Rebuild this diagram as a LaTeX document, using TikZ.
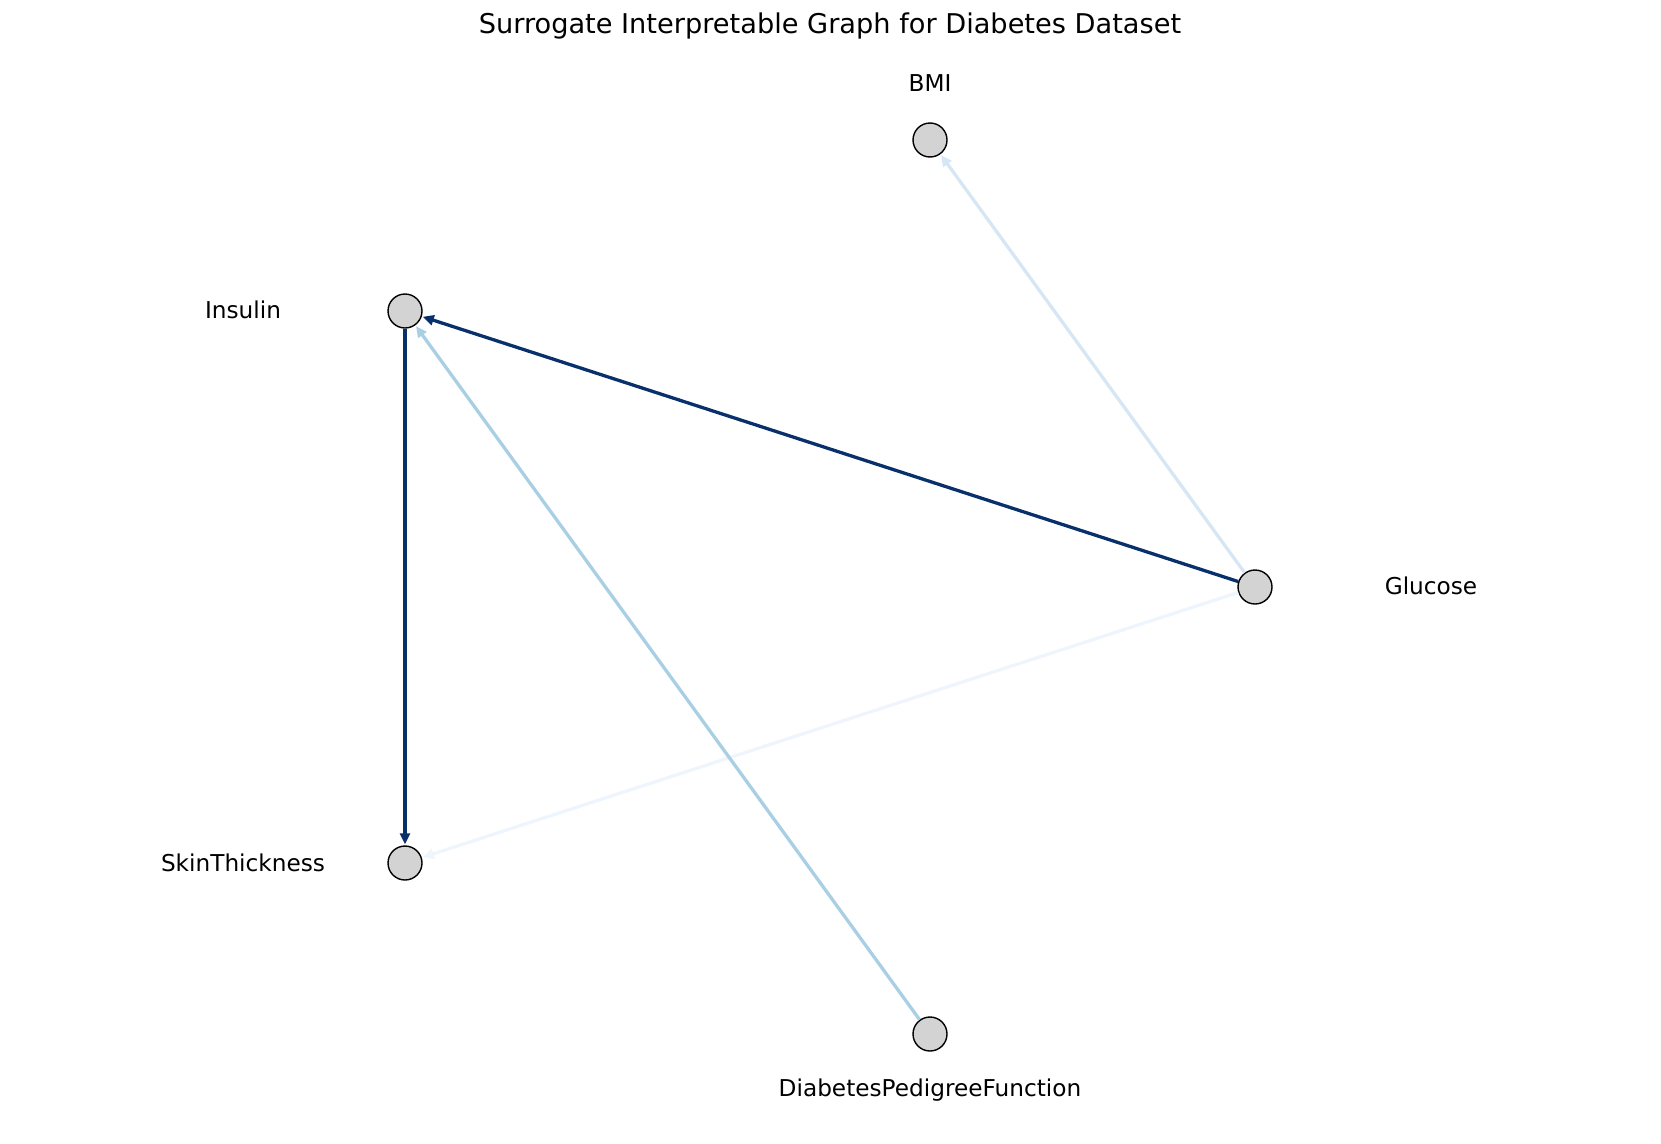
\documentclass[tikz,border=0pt]{standalone}
\usepackage{fontspec}
\setmainfont{DejaVu Sans}
\usetikzlibrary{arrows.meta}
\definecolor{edark}{HTML}{08306B}
\definecolor{elight}{HTML}{A9CFE5}
\definecolor{epale}{HTML}{D6E6F4}
\definecolor{efaint}{HTML}{EEF5FC}
\definecolor{nodefill}{HTML}{D3D3D3}
\begin{document}
\begin{tikzpicture}[x=1pt,y=-1pt,
  vnode/.style={circle,draw=black,fill=nodefill,line width=1.4pt,minimum size=34pt,inner sep=0pt},
  lbl/.style={font=\fontsize{23.2}{28}\selectfont,text=black},
  ttl/.style={font=\fontsize{27.2}{32}\selectfont,text=black},
  edge/.style={line width=3.3pt,-{Triangle[length=11pt,width=10pt]},shorten >=1pt,shorten <=0pt}]
\path[use as bounding box] (0,0) rectangle (1661,1143);
\node[ttl] (title) at (830,26) {Surrogate Interpretable Graph for Diabetes Dataset};
\node[vnode] (bmi) at (930,140) {};
\node[vnode] (ins) at (405,311) {};
\node[vnode] (glu) at (1255,587) {};
\node[vnode] (skin) at (405,863) {};
\node[vnode] (dpf) at (930,1034) {};
\node[lbl] (bmil) at (930,83) {BMI};
\node[lbl] (insl) at (243,310) {Insulin};
\node[lbl] (glul) at (1431,586) {Glucose};
\node[lbl] (skinl) at (243,863) {SkinThickness};
\node[lbl] (dpfl) at (930,1090) {DiabetesPedigreeFunction};
\draw[edge,draw=efaint,-{Triangle[length=11pt,width=10pt,fill=efaint]}] (glu) -- (skin);
\draw[edge,draw=epale] (glu) -- (bmi);
\draw[edge,draw=elight] (dpf) -- (ins);
\draw[edge,draw=edark] (glu) -- (ins);
\draw[edge,draw=edark] (ins) -- (skin);
\end{tikzpicture}
\end{document}
